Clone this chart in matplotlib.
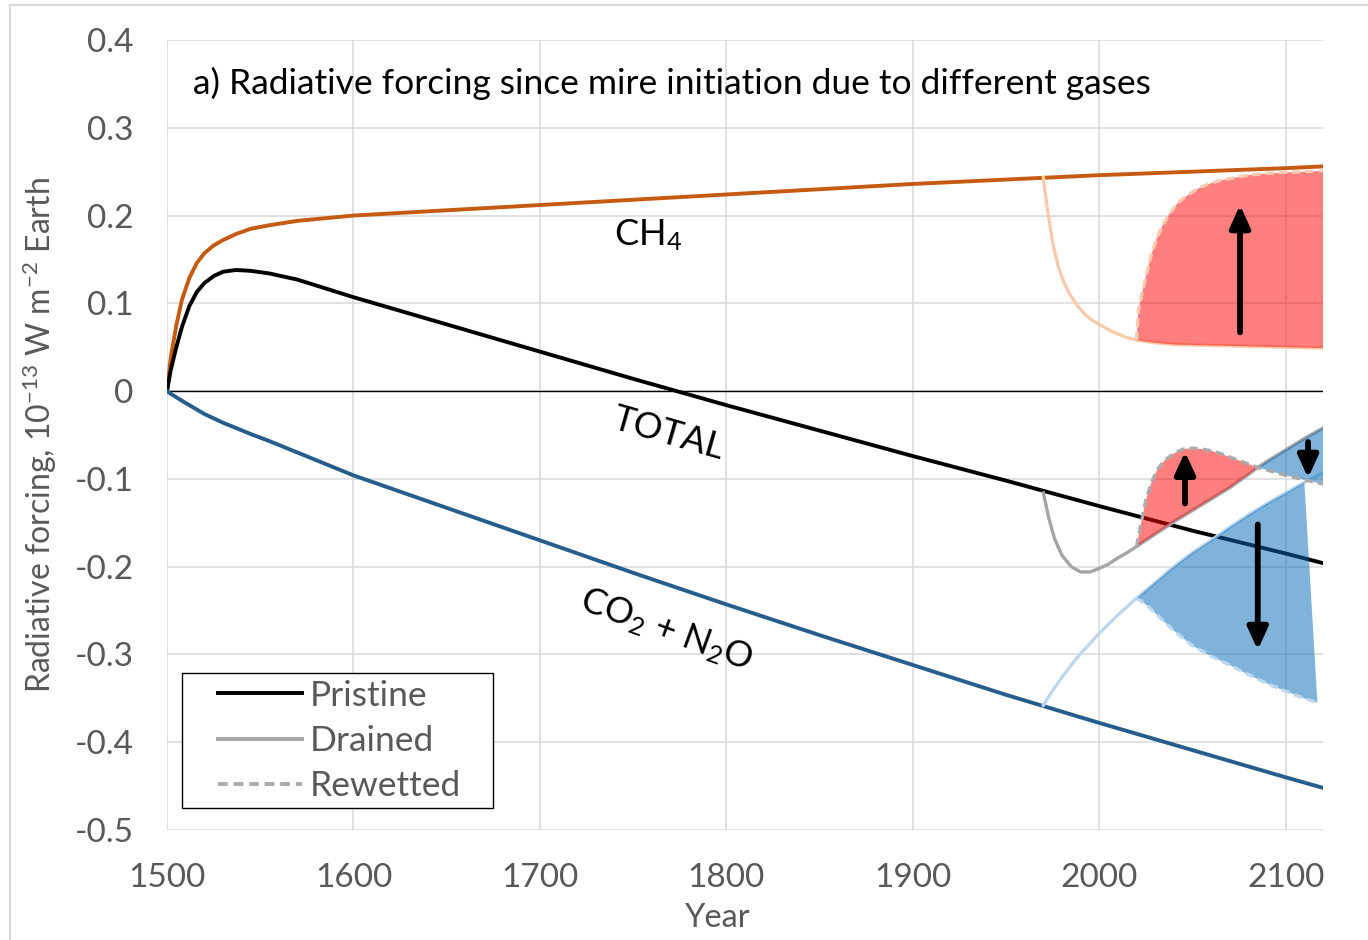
import numpy as np
import matplotlib.pyplot as plt
from matplotlib.lines import Line2D
from matplotlib.patches import Rectangle
from matplotlib.legend_handler import HandlerLine2D

plt.rcParams['font.family'] = ['Lato', 'DejaVu Sans']
plt.rcParams['mathtext.fontset'] = 'custom'
plt.rcParams['mathtext.rm'] = 'Lato'
plt.rcParams['mathtext.it'] = 'Lato:italic'
plt.rcParams['mathtext.default'] = 'regular'

# pristine mire, since initiation in 1500
years = [1500, 1502, 1505, 1508, 1512, 1516, 1520, 1525, 1530, 1537, 1545, 1555, 1570,
         1585, 1600, 1650, 1700, 1750, 1800, 1850, 1900, 1950, 2000, 2050, 2100, 2120]
ch4 = [0, 0.038, 0.075, 0.104, 0.129, 0.146, 0.157, 0.166, 0.172, 0.179, 0.185, 0.189, 0.194,
       0.197, 0.200, 0.206, 0.212, 0.218, 0.224, 0.230, 0.236, 0.241, 0.246, 0.250, 0.254, 0.256]
total = [0, 0.024, 0.050, 0.073, 0.097, 0.113, 0.123, 0.131, 0.136, 0.138, 0.137, 0.134, 0.127,
         0.117, 0.107, 0.076, 0.045, 0.014, -0.016, -0.045, -0.074, -0.102, -0.131, -0.159, -0.185, -0.196]
co2 = [0, -0.003, -0.007, -0.011, -0.016, -0.021, -0.026, -0.031, -0.036, -0.042, -0.049, -0.057, -0.070,
       -0.083, -0.096, -0.133, -0.170, -0.207, -0.243, -0.278, -0.312, -0.346, -0.378, -0.409, -0.440, -0.452]

# drained from 1970
ch4_dr_years = [1970, 1972, 1975, 1978, 1981, 1984, 1988, 1992, 1996, 2000, 2005, 2010, 2015,
                2020, 2030, 2040, 2060, 2080, 2100, 2120]
ch4_dr = [0.243, 0.210, 0.169, 0.142, 0.124, 0.111, 0.098, 0.088, 0.081, 0.076, 0.070, 0.065, 0.061,
          0.058, 0.055, 0.053, 0.052, 0.051, 0.050, 0.049]
tot_dr_years = [1970, 1973, 1976, 1980, 1985, 1990, 1995, 2000, 2005, 2010, 2015, 2020, 2030, 2040,
                2050, 2060, 2070, 2080, 2085, 2090, 2100, 2110, 2120]
tot_dr = [-0.116, -0.145, -0.168, -0.187, -0.200, -0.206, -0.206, -0.202, -0.197, -0.190, -0.184, -0.177,
          -0.163, -0.149, -0.136, -0.123, -0.110, -0.095, -0.087, -0.080, -0.067, -0.054, -0.042]
co2_dr_years = [1970, 1975, 1980, 1985, 1990, 2000, 2010, 2020, 2030, 2040, 2050, 2060, 2070,
                2080, 2090, 2100, 2110, 2120]
co2_dr = [-0.358, -0.341, -0.326, -0.312, -0.299, -0.276, -0.255, -0.236, -0.218, -0.200, -0.184, -0.170, -0.155,
          -0.141, -0.128, -0.116, -0.104, -0.093]

# rewetted from 2020
ch4_rw_years = [2020, 2021, 2023, 2025, 2028, 2031, 2034, 2038, 2042, 2046, 2050, 2055, 2060,
                2065, 2070, 2080, 2090, 2100, 2110, 2120]
ch4_rw = [0.058, 0.092, 0.112, 0.130, 0.156, 0.175, 0.189, 0.203, 0.214, 0.221, 0.227, 0.233, 0.237,
          0.240, 0.242, 0.246, 0.248, 0.249, 0.250, 0.251]
tot_rw_years = [2020, 2022, 2025, 2028, 2031, 2035, 2040, 2045, 2050, 2055, 2060, 2065, 2070,
                2075, 2080, 2085, 2090, 2100, 2110, 2120]
tot_rw = [-0.177, -0.155, -0.124, -0.104, -0.090, -0.079, -0.071, -0.066, -0.065, -0.066, -0.068, -0.071, -0.075,
          -0.079, -0.083, -0.087, -0.090, -0.096, -0.101, -0.106]
co2_rw_years = [2020, 2025, 2030, 2040, 2050, 2060, 2070, 2080, 2090, 2100, 2110, 2117]
co2_rw = [-0.236, -0.243, -0.253, -0.273, -0.290, -0.302, -0.312, -0.323, -0.333, -0.342, -0.350, -0.355]

# arrows: x, tail y, tip y
arrows = [(2075.5, 0.067, 0.212), (2046, -0.128, -0.069), (2112, -0.058, -0.099), (2085, -0.152, -0.295)]

c_ch4, c_co2 = '#C55A11', '#265D8C'
c_ch4_l, c_co2_l = '#F8CBAD', '#BDD7EE'
c_dr, c_rw = '#A5A5A5', '#ABABAB'
dash = (0, (2.5, 1.5))

fig = plt.figure(figsize=(13.68, 9.4), dpi=100)
ax = fig.add_axes([167 / 1368, 110 / 940, 1156 / 1368, 790 / 940])

ax.plot(years, ch4, color=c_ch4, lw=2.8, zorder=3)
ax.plot(years, total, color='black', lw=2.8, zorder=3)
ax.plot(years, co2, color=c_co2, lw=2.8, zorder=3)

ax.plot(ch4_dr_years, ch4_dr, color=c_ch4_l, lw=2.4, zorder=3)
ax.plot(tot_dr_years, tot_dr, color=c_dr, lw=2.4, zorder=3)
ax.plot(co2_dr_years, co2_dr, color=c_co2_l, lw=2.4, zorder=3)


def region(xa, ya, xb, yb, lo, hi):
    # polygon between curve a and curve b (reversed) for lo <= x <= hi
    xa, ya, xb, yb = map(np.asarray, (xa, ya, xb, yb))
    ma = (xa >= lo) & (xa <= hi)
    mb = (xb >= lo) & (xb <= hi)
    return (np.concatenate([xa[ma], xb[mb][::-1]]),
            np.concatenate([ya[ma], yb[mb][::-1]]))


red, blue = '#FF0000', '#0069B7'
px, py = region(ch4_rw_years, ch4_rw, ch4_dr_years, ch4_dr, 2020, 2120)
ax.fill(px, py, color=red, alpha=0.5, lw=0, zorder=4)
px, py = region(tot_rw_years, tot_rw, tot_dr_years, tot_dr, 2020, 2085)
ax.fill(px, py, color=red, alpha=0.5, lw=0, zorder=4)
px, py = region(tot_rw_years, tot_rw, tot_dr_years, tot_dr, 2085, 2120)
ax.fill(px, py, color=blue, alpha=0.5, lw=0, zorder=4)
px, py = region(co2_rw_years, co2_rw, co2_dr_years, co2_dr, 2020, 2117)
ax.fill(px, py, color=blue, alpha=0.5, lw=0, zorder=4)

ax.plot(ch4_rw_years, ch4_rw, color=c_ch4_l, lw=2.4, ls=dash, zorder=5)
ax.plot(tot_rw_years, tot_rw, color=c_rw, lw=2.4, ls=dash, zorder=5)
ax.plot(co2_rw_years, co2_rw, color=c_co2_l, lw=2.4, ls=dash, zorder=5)

for x, y0, y1 in arrows:
    ax.annotate('', xy=(x, y1), xytext=(x, y0),
                arrowprops=dict(arrowstyle='-|>,head_length=1.1,head_width=0.5', lw=4.2,
                                color='black', mutation_scale=12, shrinkA=0, shrinkB=0),
                zorder=6)

ax.axhline(0, color='black', lw=1.0, zorder=2)

ax.set_xlim(1500, 2120)
ax.set_ylim(-0.5, 0.4)
ax.set_xticks(range(1500, 2101, 100))
ax.set_yticks(np.round(np.arange(-0.5, 0.41, 0.1), 1))
ax.set_yticklabels(['-0.5', '-0.4', '-0.3', '-0.2', '-0.1', '0', '0.1', '0.2', '0.3', '0.4'])
ax.grid(True, color='#D9D9D9', lw=1.1, zorder=0)
ax.set_axisbelow(True)
for s in ax.spines.values():
    s.set_visible(False)
ax.tick_params(length=0, labelsize=24, labelcolor='#595959', pad=24)
ax.set_xlabel('Year', fontsize=23.5, color='#595959')
ax.xaxis.set_label_coords((718 - 167) / 1156, -(918 - 830) / 790)
ax.xaxis.label.set_va('center')
ax.set_ylabel(r'Radiative forcing, 10$^{\mathregular{-13}}$ W m$^{\mathregular{-2}}$ Earth',
              fontsize=23, color='#595959')
ax.yaxis.set_label_coords(-(167 - 40) / 1156, (830 - 435) / 790)
ax.yaxis.label.set_va('center')

ax.text(1514, 0.35, 'a) Radiative forcing since mire initiation due to different gases',
        fontsize=25.5, va='center', ha='left')
ax.text(1758, 0.178, 'CH$_4$', fontsize=26, ha='center', va='center')
ax.text(1769, -0.048, 'TOTAL', fontsize=26, ha='center', va='center', rotation=-16)
ax.text(1768, -0.272, 'CO$_2$ + N$_2$O', fontsize=26, ha='center', va='center', rotation=-20)

# legend box drawn separately to get the wide side padding of the original
ax.add_patch(Rectangle((15 / 1156, 22 / 790), 311 / 1156, 135 / 790, transform=ax.transAxes,
                       facecolor='white', edgecolor='black', lw=1.0, zorder=7))
handles = [Line2D([], [], color='black', lw=2.8),
           Line2D([], [], color=c_dr, lw=2.8),
           Line2D([], [], color=c_rw, lw=2.8, ls=dash)]
leg = ax.legend(handles, ['Pristine', 'Drained', 'Rewetted'], loc='center left',
                bbox_to_anchor=(51 / 1156, (830 - 741) / 790), borderaxespad=0, borderpad=0,
                fontsize=25.5, frameon=False, handlelength=2.37, handletextpad=0.23,
                labelspacing=0.37, handler_map={Line2D: HandlerLine2D()})
leg.set_zorder(8)
for t in leg.get_texts():
    t.set_color('#595959')

fig.add_artist(Line2D([10 / 1368, 10 / 1368], [0, 1 - 5 / 940], color='#D9D9D9', lw=1.5))
fig.add_artist(Line2D([10 / 1368, 1], [1 - 5 / 940, 1 - 5 / 940], color='#D9D9D9', lw=1.5))

fig.savefig('out.png', dpi=100)
